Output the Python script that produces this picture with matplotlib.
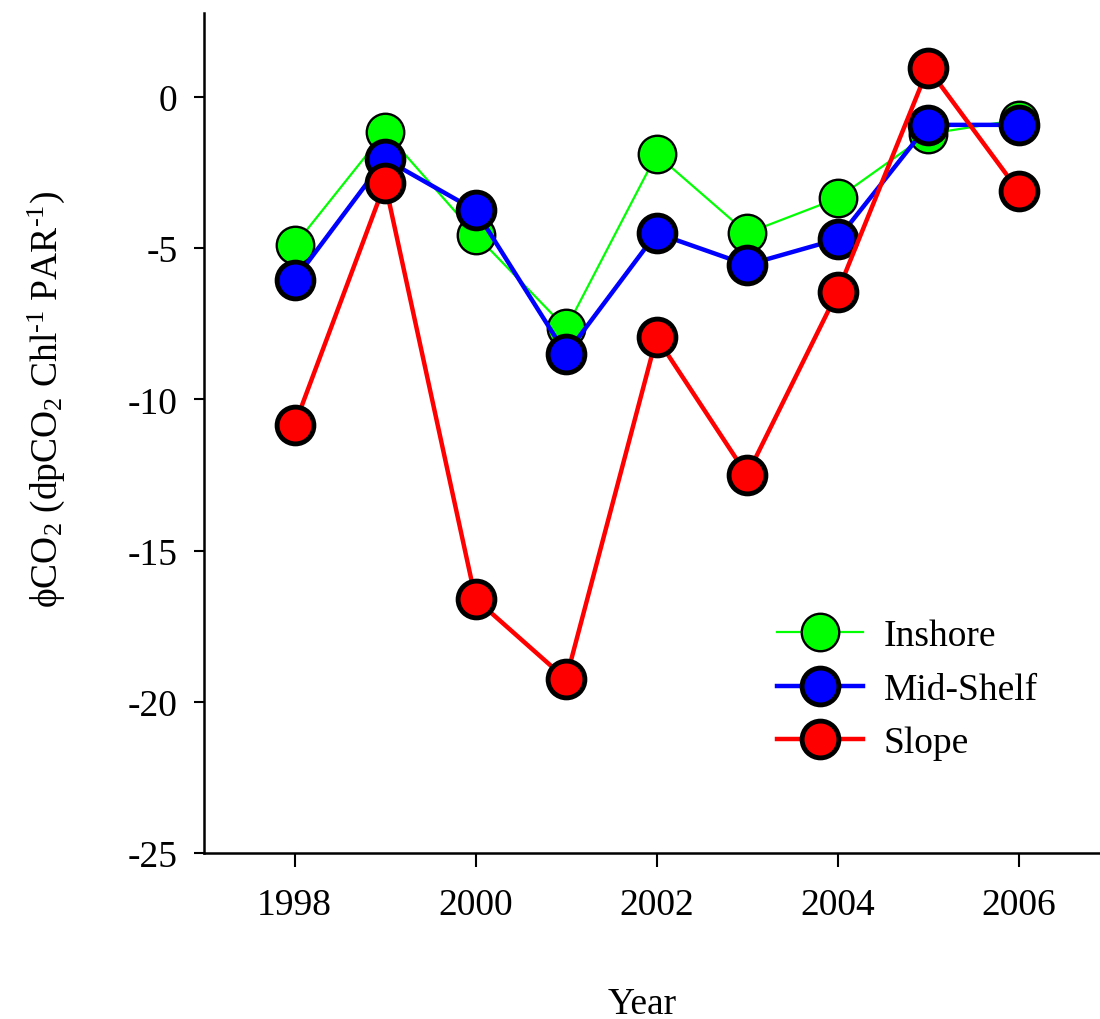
import matplotlib
matplotlib.use("Agg")
import matplotlib.pyplot as plt

# datos
years = [1998, 1999, 2000, 2001, 2002, 2003, 2004, 2005, 2006]
inshore = [-4.9, -1.15, -4.55, -7.65, -1.9, -4.5, -3.35, -1.22, -0.75]
mid_shelf = [-6.05, -2.05, -3.75, -8.5, -4.5, -5.55, -4.7, -0.92, -0.92]
slope = [-10.85, -2.85, -16.6, -19.25, -7.95, -12.5, -6.45, 0.95, -3.1]
series_names = ["Inshore", "Mid-Shelf", "Slope"]
xticks = [1998, 2000, 2002, 2004, 2006]
yticks = [0, -5, -10, -15, -20, -25]

plt.rcParams["font.family"] = ["Liberation Serif", "DejaVu Serif"]
plt.rcParams["mathtext.fontset"] = "custom"
plt.rcParams["mathtext.rm"] = "Liberation Serif"
plt.rcParams["mathtext.it"] = "Liberation Serif:italic"

FS = 27

fig = plt.figure(figsize=(11, 10.2), dpi=100)
ax = fig.add_axes([0.1855, 0.1627, 0.8145, 0.8236])

# verde fino, azul y rojo mas gruesos
ax.plot(years, inshore, color="#00ff00", lw=1.6, marker="o", ms=27,
        mfc="#00ff00", mec="black", mew=1.7, label=series_names[0])
ax.plot(years, mid_shelf, color="#0000ff", lw=3.2, marker="o", ms=26.5,
        mfc="#0000ff", mec="black", mew=3.5, label=series_names[1])
ax.plot(years, slope, color="#ff0000", lw=3.2, marker="o", ms=26.5,
        mfc="#ff0000", mec="black", mew=3.5, label=series_names[2])

ax.set_xlim(1997.0, 2006.9)
ax.set_ylim(-25, 2.78)
ax.set_xticks(xticks)
ax.set_yticks(yticks)
ax.set_yticklabels([str(v) for v in yticks])

for s in ["top", "right"]:
    ax.spines[s].set_visible(False)
for s in ["left", "bottom"]:
    ax.spines[s].set_linewidth(1.8)

ax.tick_params(axis="x", direction="out", length=10, width=1.5, pad=15, labelsize=FS)
ax.tick_params(axis="y", direction="out", length=7, width=1.5, pad=12, labelsize=FS)

fig.text(46 / 1100, 1 - 400 / 1020,
         r"ϕCO$_\mathrm{2}$ (dpCO$_\mathrm{2}$ Chl$^{\text{-1}}$ PAR$^{\text{-1}}$)",
         rotation=90, ha="center", va="center", fontsize=FS)
fig.text(642 / 1100, 1 - 1014 / 1020, "Year", ha="center", va="baseline", fontsize=FS)

leg = ax.legend(loc="upper left", bbox_to_anchor=(777 / 1100, 1 - 620 / 1020),
                bbox_transform=fig.transFigure, frameon=False, fontsize=FS,
                handlelength=2.3, handletextpad=0.55, labelspacing=0.5,
                borderpad=0, borderaxespad=0)

fig.savefig("out.png", dpi=100)
